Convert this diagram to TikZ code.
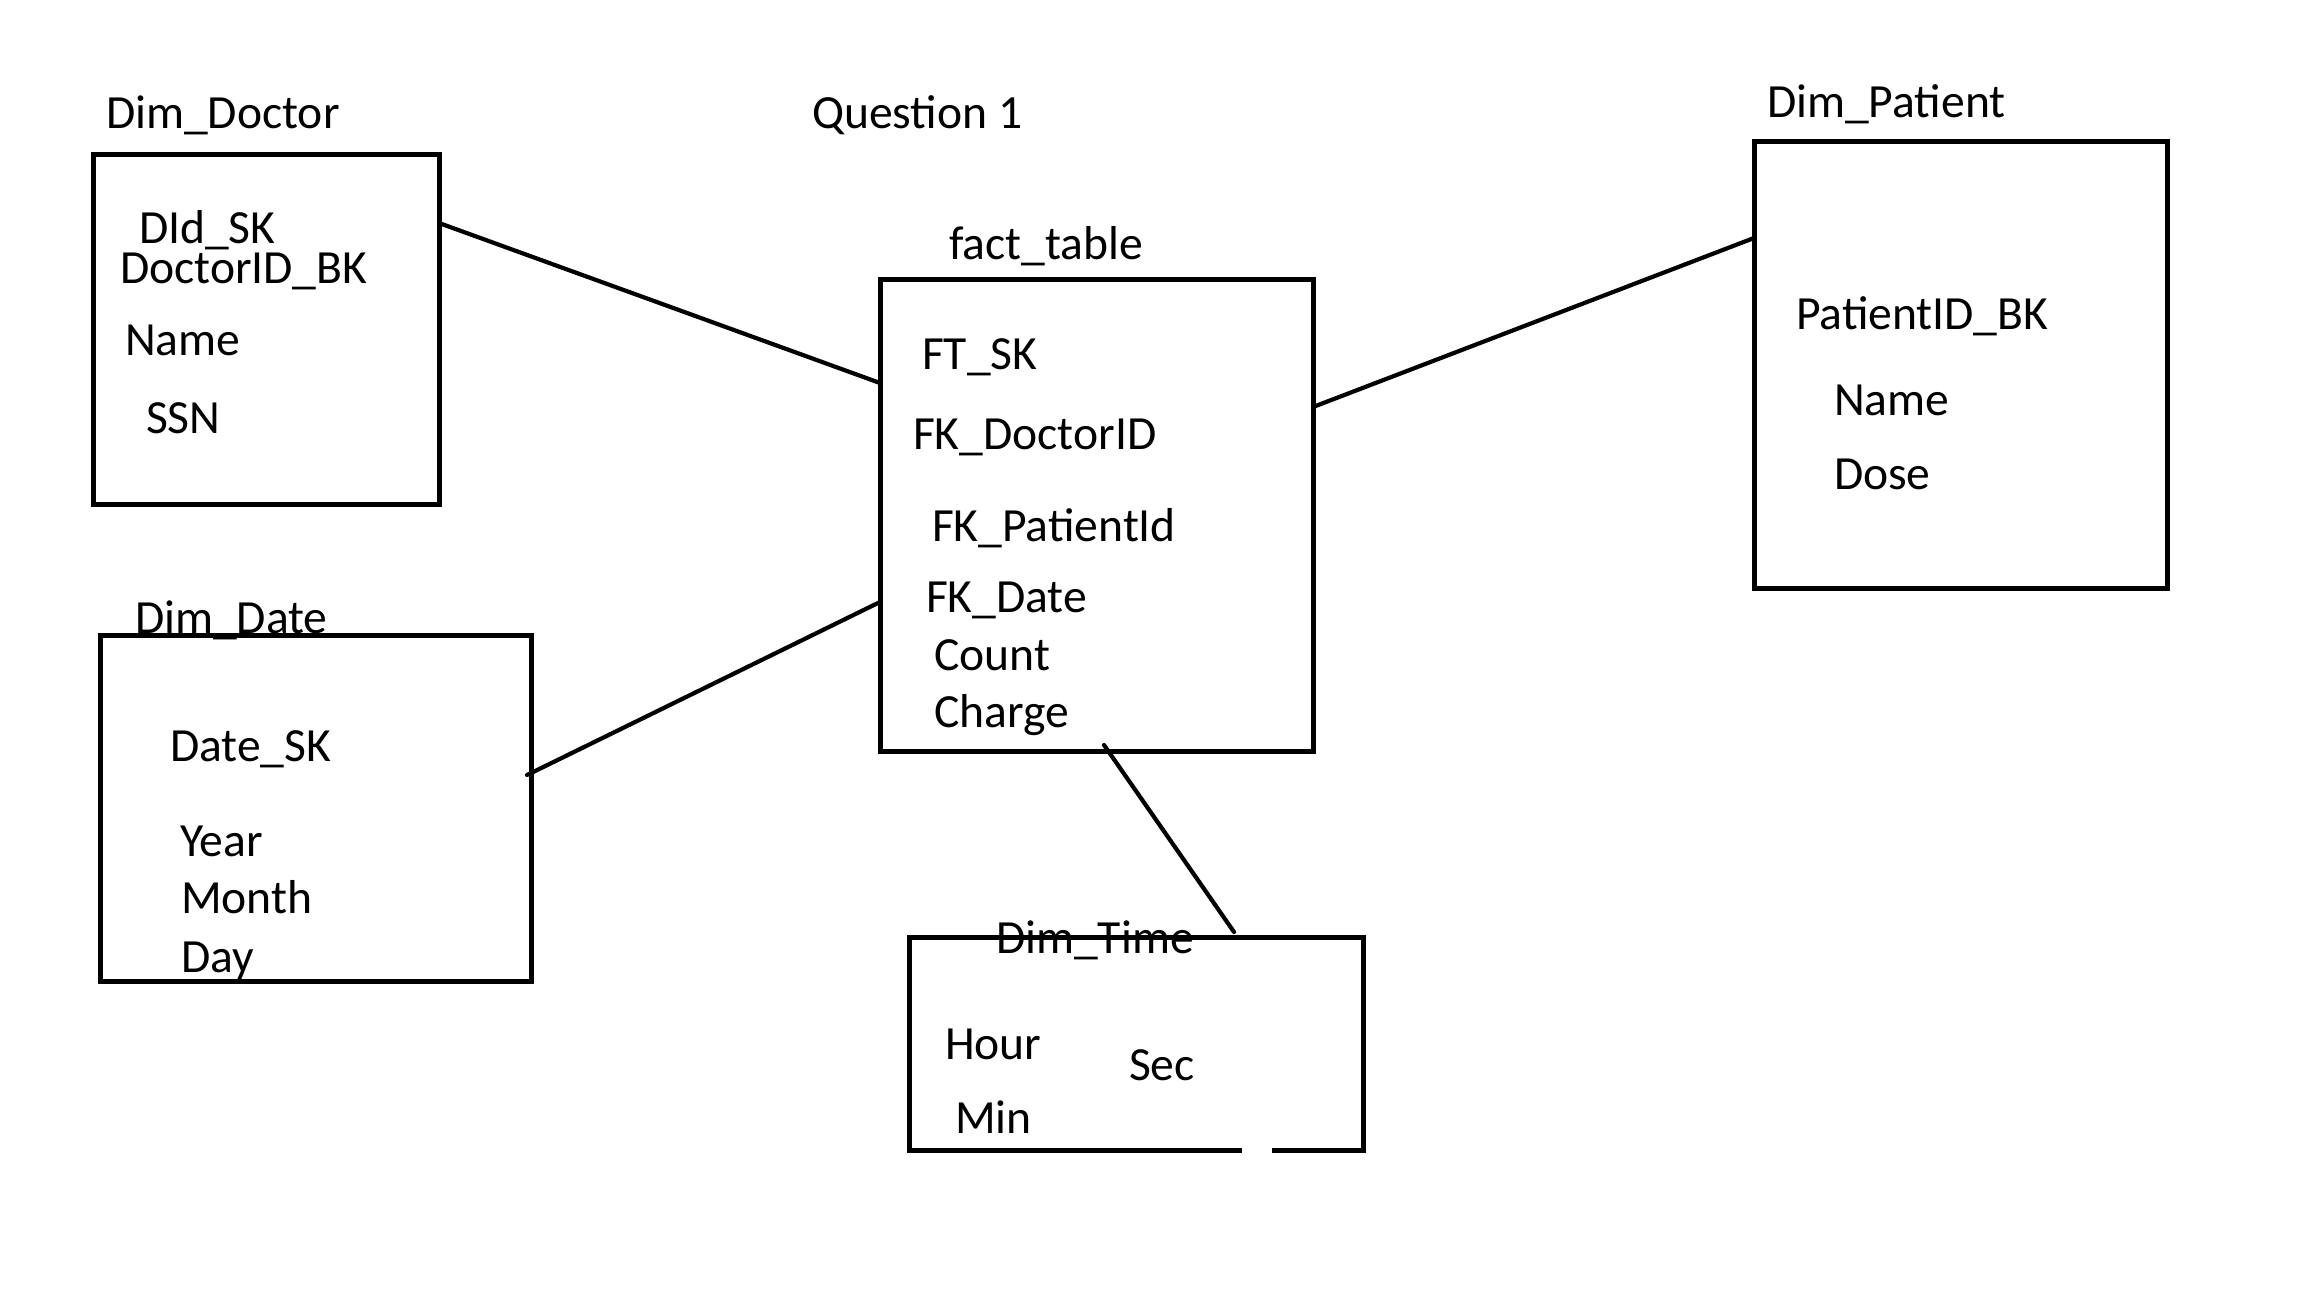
\documentclass[tikz,border=0pt]{standalone}
\usepackage{fontspec}
\setmainfont{Carlito}
\begin{document}
\begin{tikzpicture}[x=1pt,y=-1pt,
  box/.style={draw, line width=5pt, rectangle, inner sep=0pt, outer sep=0pt, line join=miter},
  boxline/.style={line width=5pt, line join=miter},
  lbl/.style={anchor=base west, inner sep=0pt, outer sep=0pt, font=\fontsize{47.6}{56}\selectfont},
  conn/.style={line width=4.2pt, line cap=round}]
\fill[white] (0,0) rectangle (2304,1296);
\useasboundingbox (0,0) rectangle (2304,1296);

% boxes
\node[box, minimum width=346pt, minimum height=350pt] (doc) at (266,329) {};
\node[box, minimum width=433pt, minimum height=472pt] (fact) at (1096.5,515) {};
\node[box, minimum width=413pt, minimum height=447pt] (pat) at (1960.5,364.5) {};
\node[box, minimum width=431pt, minimum height=346pt] (date) at (315.5,808) {};
\node[box, draw=none, minimum width=454pt, minimum height=213pt] (time) at (1136,1043.5) {};
\draw[boxline] ([xshift=-121pt]time.south east) -| (time.north west) -| (time.south east) -- ([xshift=-91pt]time.south east);

% titles
\node[lbl] (tdoc) at (106,128) {Dim\_Doctor};
\node[lbl] (tq) at (812,128) {Question 1};
\node[lbl] (tpat) at (1767,117) {Dim\_Patient};
\node[lbl] (tfact) at (949,259) {fact\_table};
\node[lbl] (tdate) at (135,633) {Dim\_Date};
\node[lbl] (ttime) at (996,953) {Dim\_Time};

% Dim_Doctor fields
\node[lbl] (d1) at (139,243) {DId\_SK};
\node[lbl] (d2) at (120,283) {DoctorID\_BK};
\node[lbl] (d3) at (125,355) {Name};
\node[lbl] (d4) at (146,433) {SSN};

% fact fields
\node[lbl] (f1) at (922,369) {FT\_SK};
\node[lbl] (f2) at (913,449) {FK\_DoctorID};
\node[lbl] (f3) at (932,541) {FK\_PatientId};
\node[lbl] (f4) at (926,612) {FK\_Date};
\node[lbl] (f5) at (934,670) {Count};
\node[lbl] (f6) at (934,727) {Charge};

% Dim_Patient fields
\node[lbl] (p1) at (1796,329) {PatientID\_BK};
\node[lbl] (p2) at (1834,415) {Name};
\node[lbl] (p3) at (1834,489) {Dose};

% Dim_Date fields
\node[lbl] (a1) at (170,761) {Date\_SK};
\node[lbl] (a2) at (180,856) {Year};
\node[lbl] (a3) at (181,913) {Month};
\node[lbl] (a4) at (181,972) {Day};

% Dim_Time fields
\node[lbl] (h1) at (945,1059) {Hour};
\node[lbl] (h2) at (955,1133) {Min};
\node[lbl] (h3) at (1129,1080) {Sec};

% connectors
\draw[conn] ([yshift=-69pt]doc.north east) -- ([yshift=-104pt]fact.north west);
\draw[conn] ([yshift=-128pt]fact.north east) -- ([yshift=-97pt]pat.north west);
\draw[conn] ([xshift=-4pt,yshift=-140pt]date.north east) -- ([yshift=-323pt]fact.north west);
\draw[conn] ([xshift=224pt,yshift=6pt]fact.south west) -- ([xshift=325pt,yshift=5pt]time.north west);
\end{tikzpicture}
\end{document}
